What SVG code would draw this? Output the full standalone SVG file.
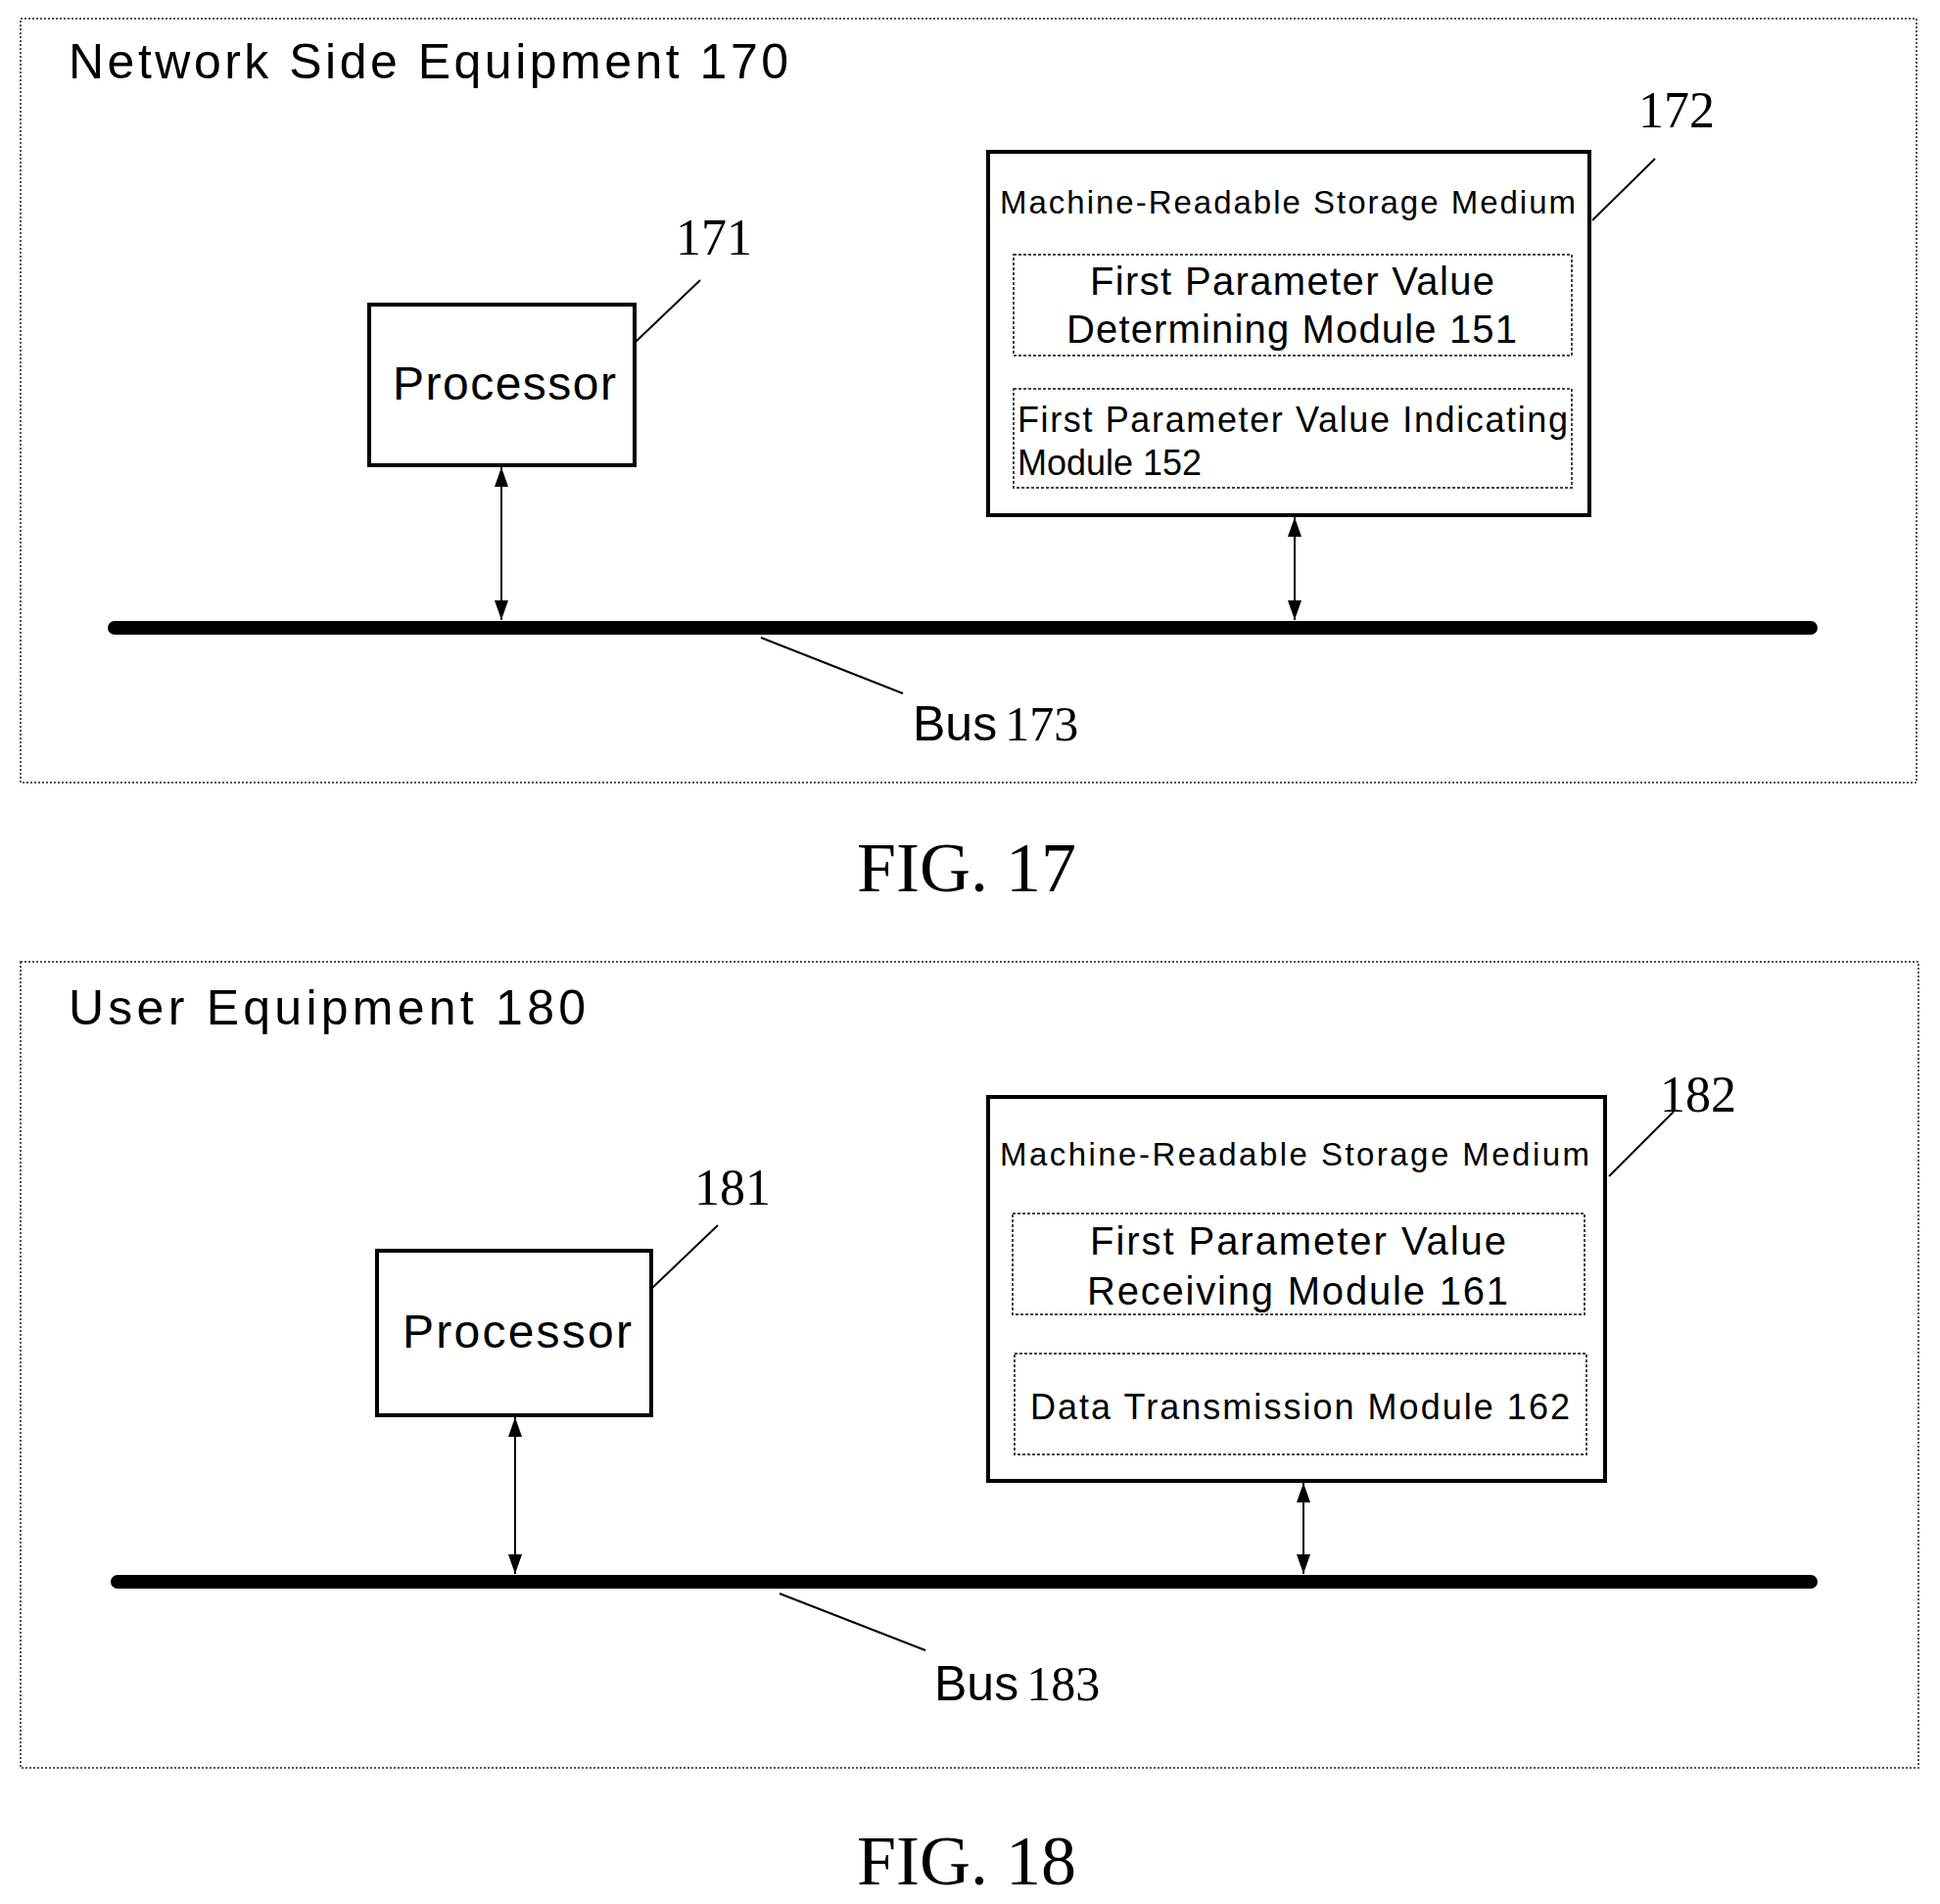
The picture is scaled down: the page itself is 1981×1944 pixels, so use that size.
<svg xmlns="http://www.w3.org/2000/svg" width="1981" height="1944" viewBox="0 0 1981 1944">
<style>
.outer{fill:none;stroke:#555;stroke-width:2;stroke-dasharray:2 2}
.box{fill:#fff;stroke:#000;stroke-width:4}
.inner{fill:none;stroke:#444;stroke-width:2;stroke-dasharray:3 2}
.s{font-family:"Liberation Sans",Arial,sans-serif;fill:#000}
.r{font-family:"Liberation Serif","Times New Roman",serif;fill:#000}
.ln{stroke:#000;stroke-width:2;fill:none}
.bus{stroke:#000;stroke-width:14;stroke-linecap:round}
.arr{stroke:#000;stroke-width:2;marker-start:url(#ah);marker-end:url(#ah)}
</style>
<defs>
<marker id="ah" viewBox="0 0 20 14" refX="20" refY="7" markerWidth="20" markerHeight="14" markerUnits="userSpaceOnUse" orient="auto-start-reverse"><path d="M0,0 L20,7 L0,14 Z" fill="#000"/></marker>
</defs>
<g id="fig17">
<rect class="outer" x="21" y="19" width="1936" height="780"/>
<text class="s" x="70" y="80" font-size="50" textLength="735">Network Side Equipment 170</text>
<text class="r" x="987" y="910" font-size="72" text-anchor="middle">FIG. 17</text>
</g>
<g id="proc171">
<rect class="box" x="377" y="311" width="271" height="164"/>
<text class="s" x="401" y="408" font-size="48" textLength="228">Processor</text>
<text class="r" x="729" y="260" font-size="52" text-anchor="middle">171</text>
</g>
<g id="storage172">
<rect class="box" x="1009" y="155" width="614" height="371"/>
<text class="s" x="1021" y="218" font-size="33" textLength="588">Machine-Readable Storage Medium</text>
<text class="r" x="1712" y="130" font-size="52" text-anchor="middle">172</text>
</g>
<g id="mod151">
<rect class="inner" x="1035" y="260" width="570" height="103"/>
<text class="s" x="1113" y="301" font-size="40" textLength="413">First Parameter Value</text>
<text class="s" x="1089" y="350" font-size="40" textLength="460">Determining Module 151</text>
</g>
<g id="mod152">
<rect class="inner" x="1035" y="397" width="570" height="101"/>
<text class="s" x="1039" y="441" font-size="36" textLength="562">First Parameter Value Indicating</text>
<text class="s" x="1039" y="485" font-size="36">Module 152</text>
</g>
<g id="bus173">
<line class="bus" x1="117" y1="641" x2="1849" y2="641"/>
<text x="932" y="756" font-size="50"><tspan class="s">Bus</tspan><tspan class="r" dx="8">173</tspan></text>
</g>
<g id="fig18">
<rect class="outer" x="21" y="982" width="1938" height="823"/>
<text class="s" x="70" y="1046" font-size="50" textLength="528">User Equipment 180</text>
<text class="r" x="987" y="1924" font-size="72" text-anchor="middle">FIG. 18</text>
</g>
<g id="proc181">
<rect class="box" x="385" y="1277" width="280" height="168"/>
<text class="s" x="411" y="1376" font-size="48" textLength="234">Processor</text>
<text class="r" x="748" y="1230" font-size="52" text-anchor="middle">181</text>
</g>
<g id="storage182">
<rect class="box" x="1009" y="1120" width="630" height="392"/>
<text class="s" x="1021" y="1190" font-size="33" textLength="602">Machine-Readable Storage Medium</text>
<text class="r" x="1734" y="1135" font-size="52" text-anchor="middle">182</text>
</g>
<g id="mod161">
<rect class="inner" x="1034" y="1239" width="584" height="103"/>
<text class="s" x="1113" y="1281" font-size="40" textLength="425">First Parameter Value</text>
<text class="s" x="1110" y="1332" font-size="40" textLength="430">Receiving Module 161</text>
</g>
<g id="mod162">
<rect class="inner" x="1036" y="1382" width="584" height="103"/>
<text class="s" x="1052" y="1449" font-size="36" textLength="551">Data Transmission Module 162</text>
</g>
<g id="bus183">
<line class="bus" x1="120" y1="1615" x2="1849" y2="1615"/>
<text x="954" y="1736" font-size="50"><tspan class="s">Bus</tspan><tspan class="r" dx="8">183</tspan></text>
</g>
<g id="connectors">
<line class="ln" x1="648" y1="350" x2="715" y2="286"/>
<line class="ln" x1="1626" y1="225" x2="1690" y2="162"/>
<line class="ln" x1="777" y1="651" x2="922" y2="708"/>
<line class="arr" x1="512" y1="477" x2="512" y2="633"/>
<line class="arr" x1="1322" y1="528" x2="1322" y2="633"/>
<line class="ln" x1="666" y1="1315" x2="733" y2="1251"/>
<line class="ln" x1="1643" y1="1201" x2="1709" y2="1135"/>
<line class="ln" x1="796" y1="1627" x2="945" y2="1685"/>
<line class="arr" x1="526" y1="1447" x2="526" y2="1607"/>
<line class="arr" x1="1331" y1="1514" x2="1331" y2="1607"/>
</g>
</svg>
